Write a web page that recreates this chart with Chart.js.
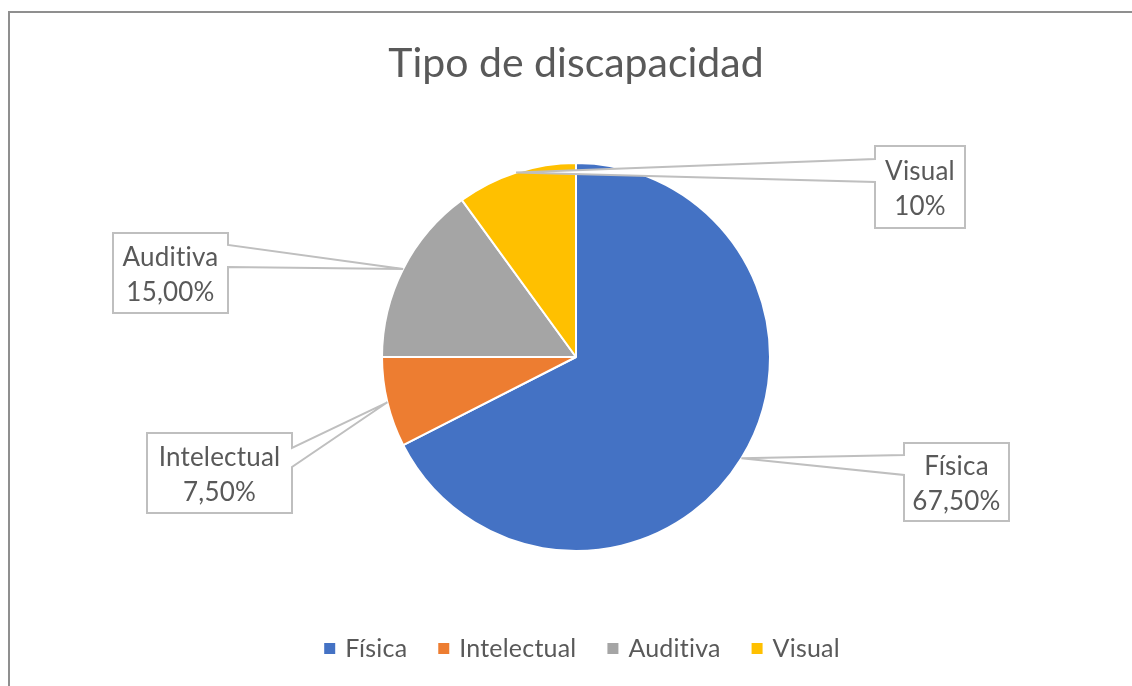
<!DOCTYPE html>
<html lang="es">
<head>
<meta charset="utf-8">
<title>Tipo de discapacidad</title>
<script src="https://cdn.jsdelivr.net/npm/chart.js@4.4.1/dist/chart.umd.min.js"></script>
<style>
  html, body { margin: 0; padding: 0; background: #fff; }
  #wrap { width: 1132px; height: 686px; }
</style>
</head>
<body>
<div id="wrap"><canvas id="discChart" width="1132" height="686"></canvas></div>
<script>
// Data
const chartTitle = 'Tipo de discapacidad';
const categories = ['Física', 'Intelectual', 'Auditiva', 'Visual'];
const percentages = [67.5, 7.5, 15, 10];
const labelDecimals = [2, 2, 2, 0];
const sliceColors = ['#4472C4', '#ED7D31', '#A5A5A5', '#FFC000'];

// Callout boxes: offset of the box from the pie centre, box size,
// which side the pointer leaves from and where along that side
const callouts = [
    { dx: 328, dy: 86, w: 105, h: 78, side: 'left', p0: 12, p1: 32 },
    { dx: -429, dy: 76, w: 145, h: 80, side: 'right', p0: 15, p1: 34 },
    { dx: -463, dy: -124, w: 115, h: 80, side: 'right', p0: 12, p1: 34 },
    { dx: 299, dy: -211, w: 90, h: 82, side: 'left', p0: 13, p1: 36 }
];

const FONT = 'Lato, "Open Sans", sans-serif';
const TEXT_COLOR = '#595959';

function formatPct(v, d) {
    return v.toFixed(d).replace('.', ',') + '%';
}

// no "ti" ligature from Lato
function plainText(ctx) {
    if ('letterSpacing' in ctx) ctx.letterSpacing = '0.2px';
    if ('textRendering' in ctx) ctx.textRendering = 'optimizeSpeed';
}

const decorPlugin = {
    id: 'decor',
    beforeDraw(chart) {
        const ctx = chart.ctx;
        ctx.save();
        ctx.fillStyle = '#fff';
        ctx.fillRect(0, 0, chart.width, chart.height);
        // frame runs off the right and bottom edges
        ctx.strokeStyle = '#8f8f8f';
        ctx.lineWidth = 2;
        ctx.strokeRect(9, 12, chart.width + 40, chart.height + 40);
        ctx.restore();
    },
    afterDatasetsDraw(chart) {
        const ctx = chart.ctx;
        const arcs = chart.getDatasetMeta(0).data;

        ctx.save();
        plainText(ctx);
        arcs.forEach((arc, i) => {
            const { x, y, startAngle, endAngle, outerRadius } =
                arc.getProps(['x', 'y', 'startAngle', 'endAngle', 'outerRadius'], true);
            const mid = (startAngle + endAngle) / 2;
            const tipX = x + Math.cos(mid) * outerRadius;
            const tipY = y + Math.sin(mid) * outerRadius;

            const c = callouts[i];
            const L = x + c.dx, T = y + c.dy, R = L + c.w, B = T + c.h;

            ctx.beginPath();
            if (c.side === 'left') {
                ctx.moveTo(L, T);
                ctx.lineTo(R, T);
                ctx.lineTo(R, B);
                ctx.lineTo(L, B);
                ctx.lineTo(L, T + c.p1);
                ctx.lineTo(tipX, tipY);
                ctx.lineTo(L, T + c.p0);
            } else {
                ctx.moveTo(L, T);
                ctx.lineTo(R, T);
                ctx.lineTo(R, T + c.p0);
                ctx.lineTo(tipX, tipY);
                ctx.lineTo(R, T + c.p1);
                ctx.lineTo(R, B);
                ctx.lineTo(L, B);
            }
            ctx.closePath();
            ctx.fillStyle = '#fff';
            ctx.fill();
            ctx.strokeStyle = '#bfbfbf';
            ctx.lineWidth = 2;
            ctx.lineJoin = 'miter';
            ctx.stroke();

            const cx = (L + R) / 2, cy = (T + B) / 2;
            ctx.fillStyle = TEXT_COLOR;
            ctx.font = '26px ' + FONT;
            ctx.textAlign = 'center';
            ctx.textBaseline = 'alphabetic';
            ctx.fillText(categories[i], cx, cy - 7);
            ctx.fillText(formatPct(percentages[i], labelDecimals[i]), cx, cy + 28);
        });
        ctx.restore();
    },
    afterDraw(chart) {
        const ctx = chart.ctx;
        const pie = chart.getDatasetMeta(0).data[0];
        ctx.save();

        // title
        ctx.fillStyle = TEXT_COLOR;
        ctx.font = '41px ' + FONT;
        ctx.textAlign = 'center';
        ctx.textBaseline = 'alphabetic';
        ctx.fillText(chartTitle, pie.x, 77);

        // legend
        plainText(ctx);
        ctx.font = '25px ' + FONT;
        ctx.textAlign = 'left';
        const box = 11, gap = 10, itemGap = 31;
        const widths = categories.map(t => ctx.measureText(t).width);
        const total = widths.reduce((s, w) => s + box + gap + w, 0) + itemGap * (categories.length - 1);
        let lx = 582 - total / 2;
        categories.forEach((t, i) => {
            ctx.fillStyle = sliceColors[i];
            ctx.fillRect(lx, 643, box, box);
            ctx.fillStyle = TEXT_COLOR;
            ctx.fillText(t, lx + box + gap, 657);
            lx += box + gap + widths[i] + itemGap;
        });
        ctx.restore();
    }
};

new Chart(document.getElementById('discChart'), {
    type: 'pie',
    data: {
        labels: categories,
        datasets: [{
            data: percentages,
            backgroundColor: sliceColors,
            borderColor: '#ffffff',
            borderWidth: 2
        }]
    },
    options: {
        responsive: false,
        devicePixelRatio: 1,
        animation: false,
        layout: {
            padding: { top: 162, bottom: 134, left: 381, right: 361 }
        },
        plugins: {
            legend: { display: false },
            title: { display: false },
            tooltip: { enabled: false }
        }
    },
    plugins: [decorPlugin]
});
</script>
</body>
</html>
